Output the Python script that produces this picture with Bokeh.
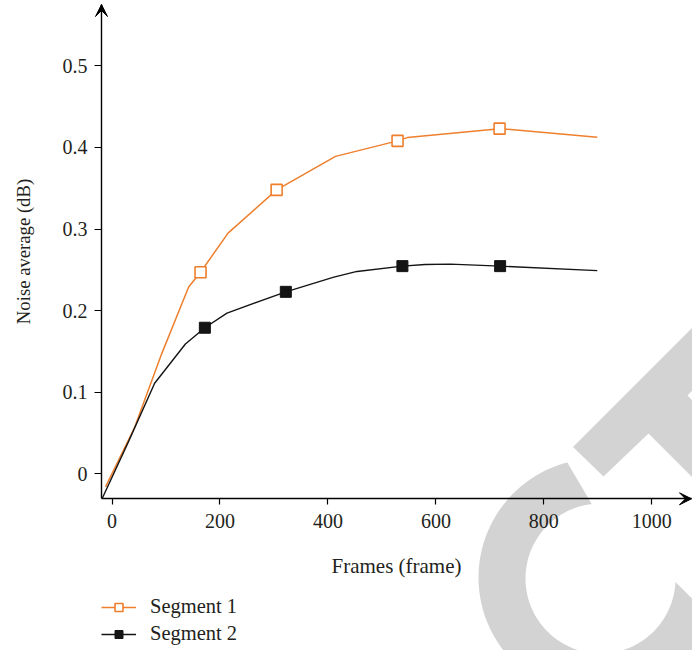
import numpy as np
from bokeh.plotting import figure
from bokeh.models import (FixedTicker, Legend, LegendItem, Arrow, VeeHead,
                          PolyAnnotation, Range1d, LinearAxis)
from bokeh.embed import file_html
from bokeh.resources import INLINE

# ---------------- data ----------------
seg1_x = [-12, 42, 92, 142, 164, 215, 305, 414, 529, 547, 718, 899]
seg1_y = [-0.016, 0.057, 0.147, 0.229, 0.247, 0.295, 0.348, 0.389, 0.408, 0.412, 0.423, 0.4125]
seg1_marker_x = [164, 305, 529, 718]
seg1_marker_y = [0.247, 0.348, 0.408, 0.423]

seg2_x = [-18, 31, 79, 136, 172, 213, 322, 411, 454, 538, 580, 627, 719, 899]
seg2_y = [-0.030, 0.040, 0.111, 0.159, 0.179, 0.197, 0.223, 0.241, 0.248, 0.2545, 0.2565, 0.257, 0.2545, 0.249]
seg2_marker_x = [172, 322, 538, 719]
seg2_marker_y = [0.179, 0.223, 0.2545, 0.2545]

series_labels = ["Segment 1", "Segment 2"]
x_ticks = [0, 200, 400, 600, 800, 1000]
x_tick_labels = ["0", "200", "400", "600", "800", "1000"]
y_ticks = [0, 0.1, 0.2, 0.3, 0.4, 0.5]
y_tick_labels = ["0", "0.1", "0.2", "0.3", "0.4", "0.5"]
x_title = "Frames (frame)"
y_title = "Noise average (dB)"

# ---------------- styling / layout ----------------
ORANGE = "#EE7F2D"
BLACK = "#141414"
TEXT = "#231F20"
WATERMARK = "#D3D3D3"
FONT = "Liberation Serif"

W, H = 692, 650
PX_X, X_ZERO_PX = 0.5398, 111.5      # pixels per x unit, pixel of x = 0
PX_Y, Y_ZERO_PX = 816.0, 473.3       # pixels per y unit, pixel of y = 0

def to_data(wx, wy):
    wx = np.asarray(wx, float)
    wy = np.asarray(wy, float)
    return (wx - X_ZERO_PX) / PX_X, (Y_ZERO_PX - wy) / PX_Y

XL, YT = to_data(0, 0)
XR, YB = to_data(W, H)
AXIS_X, AXIS_Y = to_data(101, 498.3)   # where the two axes cross
X_END, Y_END = to_data(691, 4)         # arrow tips

p = figure(width=W, height=H, min_border=0,
           x_range=Range1d(float(XL), float(XR)), y_range=Range1d(float(YB), float(YT)),
           x_axis_location=None, y_axis_location=None,
           output_backend="svg", toolbar_location=None)
p.outline_line_color = None
p.grid.visible = False
p.background_fill_color = "white"
p.border_fill_color = "white"

# ---------------- watermark (background decoration) ----------------
a_out = np.radians(np.linspace(104.7, 340.9, 120))
a_in = np.radians(np.linspace(357.3, 96.7, 120))
c_wx = np.concatenate([597 + 119 * np.cos(a_out), 600 + 75 * np.cos(a_in)])
c_wy = np.concatenate([577 - 119 * np.sin(a_out), 578 - 75 * np.sin(a_in)])
cxs, cys = to_data(c_wx, c_wy)

u = np.array([1.0, -1.0]) / np.sqrt(2)
v = np.array([1.0, 1.0]) / np.sqrt(2)
A = np.array([572.5, 446.5]); B = np.array([603.0, 476.0])
C1 = np.array([648.0, 433.0]); C2 = np.array([687.0, 395.0])
t_pts = [A, A + 190 * u, B + 190 * u, C2, C2 + 200 * v, C1 + 200 * v, C1, B]
txs, tys = to_data([q[0] for q in t_pts], [q[1] for q in t_pts])

for xs, ys in [(cxs, cys), (txs, tys)]:
    p.add_layout(PolyAnnotation(xs=list(xs), ys=list(ys), fill_color=WATERMARK, fill_alpha=1,
                                line_color=None, level="underlay"))

# ---------------- series ----------------
l1 = p.line(seg1_x, seg1_y, line_color=ORANGE, line_width=1.5)
m1 = p.scatter(seg1_marker_x, seg1_marker_y, marker="square", size=11,
               fill_color="white", line_color=ORANGE, line_width=1.6)
l2 = p.line(seg2_x, seg2_y, line_color=BLACK, line_width=1.4)
m2 = p.scatter(seg2_marker_x, seg2_marker_y, marker="square", size=11,
               fill_color=BLACK, line_color=BLACK, line_width=1)

# ---------------- axes ----------------
xaxis = LinearAxis(fixed_location=float(AXIS_Y), bounds=(float(AXIS_X), float(X_END)))
yaxis = LinearAxis(fixed_location=float(AXIS_X), bounds=(float(AXIS_Y), float(Y_END)))
p.add_layout(xaxis, "below")
p.add_layout(yaxis, "left")

for ax in (xaxis, yaxis):
    ax.axis_line_color = "black"
    ax.axis_line_width = 1.4
    ax.major_tick_line_color = "black"
    ax.major_tick_line_width = 1.2
    ax.major_tick_in = 0
    ax.minor_tick_line_color = None
    ax.major_label_text_font = FONT
    ax.major_label_text_font_size = "20px"
    ax.major_label_text_color = TEXT
    ax.axis_label_text_font = FONT
    ax.axis_label_text_font_style = "normal"
    ax.axis_label_text_color = TEXT

xaxis.ticker = FixedTicker(ticks=x_ticks)
xaxis.major_label_overrides = dict(zip(x_ticks, x_tick_labels))
yaxis.ticker = FixedTicker(ticks=y_ticks)
yaxis.major_label_overrides = dict(zip(y_ticks, y_tick_labels))
xaxis.axis_label = x_title
yaxis.axis_label = y_title
xaxis.axis_label_text_font_size = "21px"
yaxis.axis_label_text_font_size = "18.7px"
xaxis.major_tick_out = 6
yaxis.major_tick_out = 7
xaxis.major_label_standoff = 9
xaxis.axis_label_standoff = 23
yaxis.major_label_standoff = 7
yaxis.axis_label_standoff = 26

# arrow heads at the axis ends
for xe, ye in [(AXIS_X, Y_END), (X_END, AXIS_Y)]:
    p.add_layout(Arrow(end=VeeHead(size=12, fill_color="black", line_color="black", line_width=1),
                       x_start=float(AXIS_X), y_start=float(AXIS_Y),
                       x_end=float(xe), y_end=float(ye), line_alpha=0))

# ---------------- legend ----------------
legend = Legend(items=[LegendItem(label=series_labels[0], renderers=[l1, m1]),
                       LegendItem(label=series_labels[1], renderers=[l2, m2])],
                location=(101, 5), orientation="vertical",
                glyph_width=35, glyph_height=20, label_height=20, label_standoff=14,
                spacing=4, padding=0, margin=0,
                border_line_color=None, background_fill_alpha=0,
                label_text_font=FONT, label_text_font_size="20.5px", label_text_color=TEXT)
p.add_layout(legend, "center")

open("out.html", "w").write(file_html(p, INLINE))
